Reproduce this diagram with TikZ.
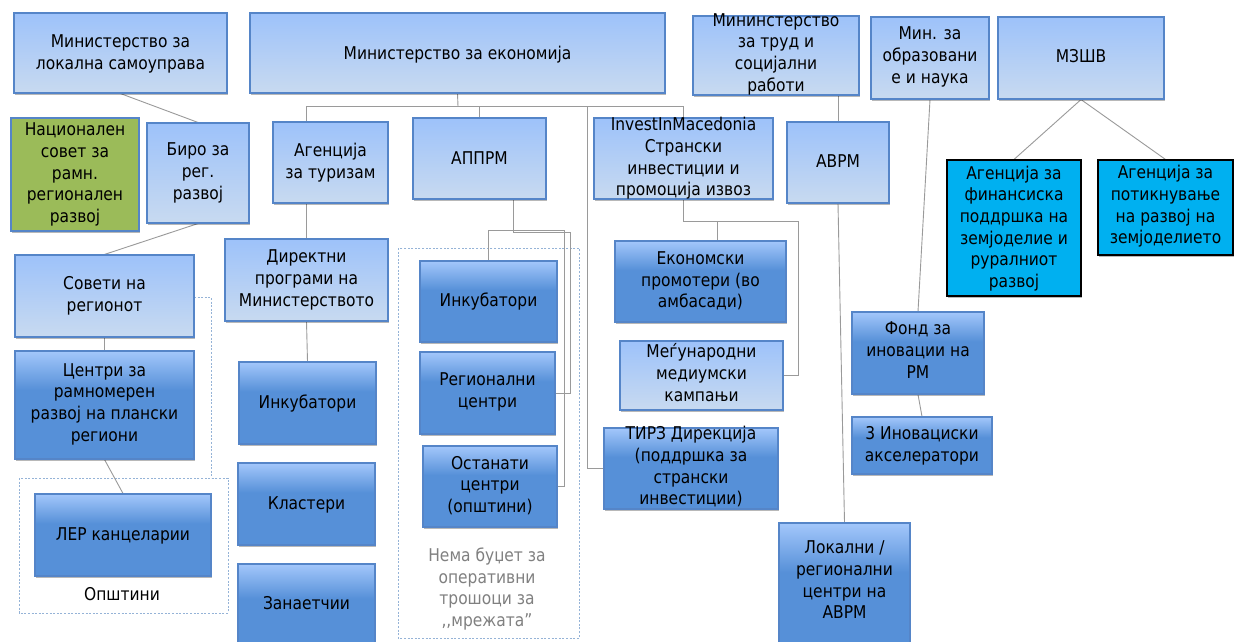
\documentclass[tikz,border=0pt]{standalone}
\usepackage{fontspec}
\setmainfont{DejaVu Sans}[FakeStretch=0.88]
\usetikzlibrary{shadows,backgrounds}
\definecolor{lbTop}{HTML}{9DC2FA}
\definecolor{lbBot}{HTML}{C8DAF0}
\definecolor{dbTop}{HTML}{A3C7FB}
\definecolor{dbBot}{HTML}{5690D8}
\definecolor{bordcol}{HTML}{5585C8}
\definecolor{grncol}{HTML}{9BBB59}
\definecolor{cyncol}{HTML}{00B0F0}
\definecolor{conncol}{HTML}{9A9A9A}
\definecolor{dashcol}{HTML}{95B3D7}
\definecolor{notecol}{HTML}{808080}
\pgfdeclareverticalshading{darkbox}{100bp}{color(0bp)=(dbBot); color(25bp)=(dbBot); color(57bp)=(dbBot); color(75bp)=(dbTop); color(100bp)=(dbTop)}
\tikzset{
  basebox/.style={rectangle, inner sep=0pt, draw=bordcol, line width=1.1pt,
    drop shadow={shadow xshift=1.2pt, shadow yshift=-1.8pt, opacity=0.28, fill=black}},
  lbox/.style={basebox, top color=lbTop, bottom color=lbBot},
  dbox/.style={basebox, shade, shading=darkbox},
  gbox/.style={basebox, fill=grncol},
  cbox/.style={basebox, fill=cyncol, draw=black},
  txt/.style={font=\fontsize{17.6}{21.7}\selectfont, align=center, inner sep=0pt,
    execute at begin node=\strut, execute at end node=\strut},
  conn/.style={draw=conncol, line width=0.9pt},
  grp/.style={draw=dashcol, line width=0.8pt, dash pattern=on 2pt off 1.6pt},
}
\begin{document}
\begin{tikzpicture}[x=1pt,y=-1pt]
\useasboundingbox (0,0) rectangle (1234,642);
% top row
\node[lbox, minimum width=213pt, minimum height=80pt] (b1) at (120.5,53) {};
\node[txt] (b1t) at (120.5,55) {Министерство за\\локална самоуправа};
\node[lbox, minimum width=415pt, minimum height=80pt] (b2) at (457.5,53) {};
\node[txt] (b2t) at (457.5,55) {Министерство за економија};
\node[lbox, minimum width=166pt, minimum height=79pt] (b3) at (776,55.5) {};
\node[txt] (b3t) at (776,55.5) {Мининстерство\\за труд и\\социјални\\работи};
\node[lbox, minimum width=118pt, minimum height=82pt] (b4) at (930,58) {};
\node[txt] (b4t) at (930,58.5) {Мин. за\\образовани\\е и наука};
\node[lbox, minimum width=166pt, minimum height=82pt] (b5) at (1081,58) {};
\node[txt] (b5t) at (1081,58) {МЗШВ};
% second row
\node[gbox, minimum width=128pt, minimum height=113pt] (g) at (75,174.5) {};
\node[txt] (gt) at (75,176) {Национален\\совет за\\рамн.\\регионален\\развој};
\node[lbox, minimum width=102pt, minimum height=100pt] (biro) at (198,173) {};
\node[txt] (birot) at (198,174.5) {Биро за\\рег.\\развој};
\node[lbox, minimum width=115pt, minimum height=81pt] (tur) at (330.5,162.5) {};
\node[txt] (turt) at (330.5,164) {Агенција\\за туризам};
\node[lbox, minimum width=133pt, minimum height=81pt] (apprm) at (479.5,158.5) {};
\node[txt] (apprmt) at (479.5,160) {АППРМ};
\node[lbox, minimum width=179pt, minimum height=81pt] (inv) at (683.5,158.5) {};
\node[txt] (invt) at (683.5,160) {InvestInMacedonia\\Странски\\инвестиции и\\промоција извоз};
\node[lbox, minimum width=102pt, minimum height=81pt] (avrm) at (838,162.5) {};
\node[txt] (avrmt) at (838,163) {АВРМ};
\node[cbox, minimum width=134pt, minimum height=136pt] (fin) at (1014,228) {};
\node[txt] (fint) at (1014,230) {Агенција за\\финансиска\\поддршка на\\земјоделие и\\руралниот\\развој};
\node[cbox, minimum width=135pt, minimum height=95pt] (pot) at (1165.5,207.5) {};
\node[txt] (pott) at (1165.5,208) {Агенција за\\потикнување\\на развој на\\земјоделието};
% third row and below
\node[lbox, minimum width=179pt, minimum height=82pt] (sov) at (104.5,296) {};
\node[txt] (sovt) at (104.5,297.5) {Совети на\\регионот};
\node[lbox, minimum width=163pt, minimum height=82pt] (dir) at (306.5,280) {};
\node[txt] (dirt) at (306.5,281.5) {Директни\\програми на\\Министерството};
\node[dbox, minimum width=179pt, minimum height=108pt] (cen) at (104.5,405) {};
\node[txt] (cent) at (104.5,405.5) {Центри за\\рамномерен\\развој на плански\\региони};
\node[dbox, minimum width=176pt, minimum height=82pt] (ler) at (123,535) {};
\node[txt] (lert) at (123,536) {ЛЕР канцеларии};
\node[txt] (opst) at (122,596) {Општини};
\node[dbox, minimum width=137pt, minimum height=82pt] (ink1) at (307.5,403) {};
\node[txt] (ink1t) at (307.5,404) {Инкубатори};
\node[dbox, minimum width=137pt, minimum height=82pt] (kla) at (306.5,504) {};
\node[txt] (klat) at (306.5,505) {Кластери};
\node[dbox, minimum width=137pt, minimum height=96pt] (zan) at (306.5,612) {};
\node[txt] (zant) at (306.5,605) {Занаетчии};
\node[dbox, minimum width=137pt, minimum height=81pt] (ink2) at (488.5,301.5) {};
\node[txt] (ink2t) at (488.5,302) {Инкубатори};
\node[dbox, minimum width=135pt, minimum height=82pt] (reg) at (487.5,393) {};
\node[txt] (regt) at (487.5,393.5) {Регионални\\центри};
\node[dbox, minimum width=134pt, minimum height=81pt] (ost) at (490,486.5) {};
\node[txt] (ostt) at (490,487.5) {Останати\\центри\\(општини)};
\node[txt, text=notecol] (note) at (487,590.5) {Нема буџет за\\оперативни\\трошоци за\\,{},мрежата”};
\node[dbox, minimum width=171pt, minimum height=81pt] (eko) at (700.5,281.5) {};
\node[txt] (ekot) at (700.5,283) {Економски\\промотери (во\\амбасади)};
\node[lbox, minimum width=163pt, minimum height=69pt] (meg) at (701.5,375.5) {};
\node[txt] (megt) at (701.5,375.5) {Меѓународни\\медиумски\\кампањи};
\node[dbox, minimum width=174pt, minimum height=81pt] (tirz) at (691,468.5) {};
\node[txt] (tirzt) at (691,469) {ТИРЗ Дирекција\\(поддршка за\\странски\\инвестиции)};
\node[dbox, minimum width=131pt, minimum height=137pt] (lok) at (844.5,591.5) {};
\node[txt] (lokt) at (844.5,583) {Локални /\\регионални\\центри на\\АВРМ};
\node[dbox, minimum width=132pt, minimum height=82pt] (fond) at (918,353) {};
\node[txt] (fondt) at (918,353.5) {Фонд за\\иновации на\\РМ};
\node[dbox, minimum width=140pt, minimum height=57pt] (akc) at (922,445.5) {};
\node[txt] (akct) at (922,447) {3 Иновациски\\акселератори};
% helper coordinates
\coordinate (bus) at (458,106.5);
\coordinate (tz) at (587,106.5);
\coordinate (apb) at (513,199);
\coordinate (apj) at (513,230);
\coordinate (apk) at (513,232);
\coordinate (ivj) at (683.5,221.5);
\coordinate (ekotop) at (717,241);
\begin{scope}[on background layer]
\fill[white] (0,0) rectangle (1234,642);
\draw[grp] (19,478) rectangle (228,613);
\draw[grp] (194,297) -- (211,297) -- (211,478);
\draw[grp] (398,248) rectangle (579,638);
\draw[conn] (b1.south) -- (biro.north);
\draw[conn] (biro.south) -- (sov.north);
\draw[conn] (sov.south) -- (cen.north);
\draw[conn] (cen.south) -- (ler.north);
\draw[conn] (b2.south) -- (bus);
\draw[conn] (bus) -| (dir.north |- tur.north);
\draw[conn] (dir.north |- tur.south) -- (dir.north);
\draw[conn] (dir.south) -- (ink1.north);
\draw[conn] (bus) -| (apprm.north);
\draw[conn] (bus) -| (inv.north);
\draw[conn] (tz) |- (tirz.west);
\draw[conn] (apb) -- (apj) -| (ink2.north);
\draw[conn] (apj) -- (564,230) |- (ost.east);
\draw[conn] (apb) -- (apk) -- (570,232) |- (reg.east);
\draw[conn] (inv.south) -- (ivj) -| (ekotop);
\draw[conn] (ivj) -- (798,221.5) |- (meg.east);
\draw[conn] (avrm.north |- b3.south) -- (avrm.north);
\draw[conn] (avrm.south) -- (lok.north);
\draw[conn] (b4.south) -- (fond.north);
\draw[conn] (fond.south) -- (akc.north);
\draw[conn] (b5.south) -- (fin.north);
\draw[conn] (b5.south) -- (pot.north);
\end{scope}
\end{tikzpicture}
\end{document}
